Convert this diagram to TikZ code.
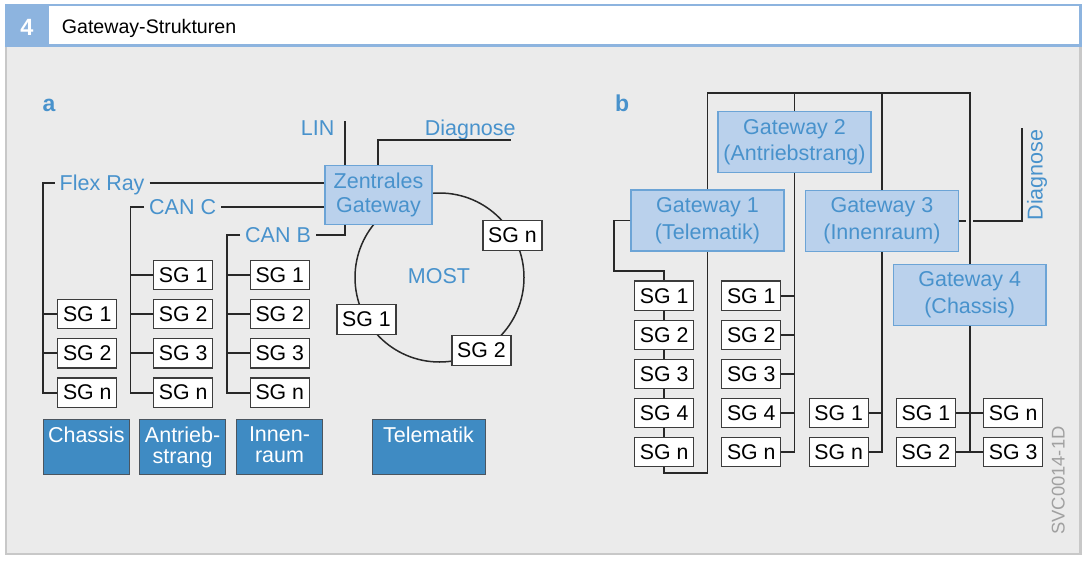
\documentclass[tikz,border=0pt]{standalone}
\usepackage{fontspec}
\setmainfont{Liberation Sans}
\definecolor{bodygray}{RGB}{235,235,235}
\definecolor{bordergray}{RGB}{200,200,200}
\definecolor{hdrblue}{RGB}{141,180,223}
\definecolor{txtblue}{RGB}{72,146,204}
\definecolor{gwfill}{RGB}{186,209,236}
\definecolor{gwdraw}{RGB}{108,164,214}
\definecolor{dkfill}{RGB}{63,139,195}
\definecolor{dkdraw}{RGB}{75,85,95}
\definecolor{linecol}{RGB}{40,40,40}
\definecolor{sgdraw}{RGB}{60,60,60}
\definecolor{svcgray}{RGB}{160,160,160}
\newcommand\myfontmain{\fontsize{21.5}{24}\selectfont}
\newcommand\myfontsg{\fontsize{21.3}{24}\selectfont}
\begin{document}
\begin{tikzpicture}[x=1pt,y=-1pt,
  bus/.style={draw=linecol, line width=1.9pt},
  ring/.style={draw=linecol, line width=1.5pt},
  sgbox/.style={draw=sgdraw, fill=white, line width=1.2pt, minimum width=59pt, minimum height=29.3pt, inner sep=0pt, font=\myfontsg, text=black},
  gwbox/.style={draw=gwdraw, fill=gwfill, line width=1.2pt, align=center, inner sep=0pt, text=txtblue},
  dkbox/.style={draw=dkdraw, fill=dkfill, line width=1pt, minimum height=55pt, inner sep=0pt},
  dktxt/.style={anchor=north, yshift=-8.5pt, text=white, align=center, inner sep=0pt, font=\fontsize{21.5}{21}\selectfont},
  buslbl/.style={text=txtblue, font=\myfontmain, inner xsep=5pt, inner ysep=0pt, text height=16pt, text depth=1pt},
  buslblz/.style={text=txtblue, font=\myfontmain, inner sep=0pt},
  panellbl/.style={text=txtblue, font=\fontsize{23}{26}\selectfont\bfseries, inner sep=0pt},
]
\useasboundingbox (0,0) rectangle (1089,565);
% frame
\fill[bodygray] (5,46.5) rectangle (1081.5,555);
\draw[bordergray, line width=2.3pt] (6.15,46.5) -- (6.15,553.85) -- (1080.35,553.85) -- (1080.35,46.5);
\fill[hdrblue] (5,4) rectangle (1081.5,46.7);
\fill[white] (49,6.3) rectangle (1079,43.5);
\node[text=white, font=\fontsize{23.5}{26}\selectfont\bfseries, inner sep=0pt, anchor=base] (num) at (27,35) {4};
\node[text=black, font=\fontsize{19.6}{22}\selectfont, inner sep=0pt, anchor=base west] (title) at (61.7,33.3) {Gateway-Strukturen};

% ---------------- panel a ----------------
\node[panellbl, anchor=base west] (la) at (42.5,111.7) {a};
\draw[ring] (439.5,277.5) circle[radius=84.5pt];
\node[gwbox, minimum width=107pt, minimum height=58.6pt, font=\myfontmain] (zg) at (378.5,195) {Zentrales\\Gateway};
\node[buslblz, anchor=center] (most) at (439,276) {MOST};
\node[sgbox] (mn) at (512.5,235.5) {SG n};
\node[sgbox] (m1) at (366.5,319.5) {SG 1};
\node[sgbox] (m2) at (481.5,350.5) {SG 2};

\node[sgbox] (c1) at (87.3,314.2) {SG 1};
\node[sgbox] (c2) at (87.3,353.4) {SG 2};
\node[sgbox] (cn) at (87.3,392.6) {SG n};

\node[sgbox] (a1) at (183.2,275) {SG 1};
\node[sgbox] (a2) at (183.2,314.2) {SG 2};
\node[sgbox] (a3) at (183.2,353.4) {SG 3};
\node[sgbox] (an) at (183.2,392.6) {SG n};

\node[sgbox] (i1) at (279.8,275) {SG 1};
\node[sgbox] (i2) at (279.8,314.2) {SG 2};
\node[sgbox] (i3) at (279.8,353.4) {SG 3};
\node[sgbox] (in) at (279.8,392.6) {SG n};

\node[buslbl, anchor=west] (flex) at (54.5,183) {Flex Ray};
\node[buslbl, anchor=west] (canc) at (144,207) {CAN C};
\node[buslbl, anchor=west] (canb) at (240,235) {CAN B};
\node[buslblz, anchor=base east] (lin) at (334.5,135) {LIN};
\node[buslblz, anchor=base west] (diaga) at (424.6,135) {Diagnose};

\coordinate (fxbus) at (43,183);
\coordinate (ccbus) at (130.5,207);
\coordinate (cbbus) at (227,235);
\coordinate (cbup) at (345,235);
\coordinate (lintop) at (345,121);
\coordinate (dgx) at (378,140);
\coordinate (dgend) at (510.5,140);

\draw[bus] (flex.west) -- (fxbus) |- (cn.west);
\draw[bus] (c1.west) -- (c1.west -| fxbus);
\draw[bus] (c2.west) -- (c2.west -| fxbus);
\draw[bus] (flex.east) -- (flex.east -| zg.west);

\draw[bus] (canc.west) -- (ccbus) |- (an.west);
\draw[bus] (a1.west) -- (a1.west -| ccbus);
\draw[bus] (a2.west) -- (a2.west -| ccbus);
\draw[bus] (a3.west) -- (a3.west -| ccbus);
\draw[bus] (canc.east) -- (canc.east -| zg.west);

\draw[bus] (canb.west) -- (cbbus) |- (in.west);
\draw[bus] (i1.west) -- (i1.west -| cbbus);
\draw[bus] (i2.west) -- (i2.west -| cbbus);
\draw[bus] (i3.west) -- (i3.west -| cbbus);
\draw[bus] (canb.east) -- (cbup) -- (cbup |- zg.south);

\draw[bus] (lintop) -- (lintop |- zg.north);
\draw[bus] (dgend) -- (dgx) -- (dgx |- zg.north);

\node[dkbox, minimum width=86.5pt, label={[dktxt]north:Chassis}] (chs) at (86.3,446.5) {};
\node[dkbox, minimum width=86pt, label={[dktxt]north:Antrieb-\\strang}] (ant) at (182.6,446.5) {};
\node[dkbox, minimum width=86pt, label={[dktxt]north:Innen-\\raum}] (inr) at (279.5,446.5) {};
\node[dkbox, minimum width=113pt, label={[dktxt]north:Telematik}] (tel) at (428.5,446.5) {};

% ---------------- panel b ----------------
\node[panellbl, anchor=base west] (lb) at (615,111.7) {b};
\node[gwbox, minimum width=153pt, minimum height=60.6pt, font=\fontsize{21.5}{26.5}\selectfont] (g2) at (794.5,142) {Gateway 2\\(Antriebstrang)};
\node[gwbox, minimum width=153pt, minimum height=61pt, font=\fontsize{21.5}{27.5}\selectfont] (g1) at (707.5,220.5) {Gateway 1\\(Telematik)};
\node[gwbox, minimum width=152.5pt, minimum height=61pt, font=\fontsize{21.5}{27.5}\selectfont] (g3) at (881.9,220.8) {Gateway 3\\(Innenraum)};
\node[gwbox, minimum width=152.5pt, minimum height=61pt, font=\fontsize{21.5}{27.5}\selectfont] (g4) at (969.7,294.8) {Gateway 4\\(Chassis)};

\node[sgbox] (p1) at (664.1,295.7) {SG 1};
\node[sgbox] (p2) at (664.1,334.8) {SG 2};
\node[sgbox] (p3) at (664.1,373.8) {SG 3};
\node[sgbox] (p4) at (664.1,412.8) {SG 4};
\node[sgbox] (pn) at (664.1,451.8) {SG n};

\node[sgbox] (q1) at (751.3,295.7) {SG 1};
\node[sgbox] (q2) at (751.3,334.8) {SG 2};
\node[sgbox] (q3) at (751.3,373.8) {SG 3};
\node[sgbox] (q4) at (751.3,412.8) {SG 4};
\node[sgbox] (qn) at (751.3,451.8) {SG n};

\node[sgbox] (s1) at (838.7,412.8) {SG 1};
\node[sgbox] (sn) at (838.7,451.8) {SG n};

\node[sgbox] (t1) at (926,412.8) {SG 1};
\node[sgbox] (t2) at (926,451.8) {SG 2};
\node[sgbox] (u1) at (1013.1,412.8) {SG n};
\node[sgbox] (u2) at (1013.1,451.8) {SG 3};

\coordinate (tb1) at (707.5,93.3);
\coordinate (g1l) at (614.4,271);
\coordinate (lbot) at (664.1,473.3);
\coordinate (dbgapa) at (966,220.8);
\coordinate (dbgapb) at (973.3,220.8);
\coordinate (dbcor) at (1022,220.8);
\coordinate (dbtop) at (1022,128.3);

\draw[bus] (g1.north) -- (tb1) -- (tb1 -| g4.north) -- (g4.north);
\draw[bus] (g2.north) -- (g2.north |- tb1);
\draw[bus] (g3.north) -- (g3.north |- tb1);

\draw[bus] (g1.west) -| (g1l) -- (g1l -| p1.north) -- (p1.north);
\draw[bus] (p1) -- (p2);
\draw[bus] (p2) -- (p3);
\draw[bus] (p3) -- (p4);
\draw[bus] (p4) -- (pn);
\draw[bus] (pn.south) -- (lbot) -| (g1.south);

\draw[bus] (g2.south) |- (qn.east);
\draw[bus] (q1.east) -- (q1.east -| g2.south);
\draw[bus] (q2.east) -- (q2.east -| g2.south);
\draw[bus] (q3.east) -- (q3.east -| g2.south);
\draw[bus] (q4.east) -- (q4.east -| g2.south);

\draw[bus] (g3.south) |- (sn.east);
\draw[bus] (s1.east) -- (s1.east -| g3.south);

\draw[bus] (g4.south) -- (g4.south |- t2.east);
\draw[bus] (t1) -- (u1);
\draw[bus] (t2) -- (u2);

\draw[bus] (g3.east) -- (dbgapa);
\draw[bus] (dbgapb) -- (dbcor) -- (dbtop);
\node[buslblz, rotate=90, anchor=base west] (diagb) at (1042.5,220.5) {Diagnose};

\node[text=svcgray, font=\fontsize{18.4}{20}\selectfont, inner sep=0pt, rotate=90, anchor=base west] (svc) at (1064.6,535) {SVC0014-1D};
\end{tikzpicture}
\end{document}
